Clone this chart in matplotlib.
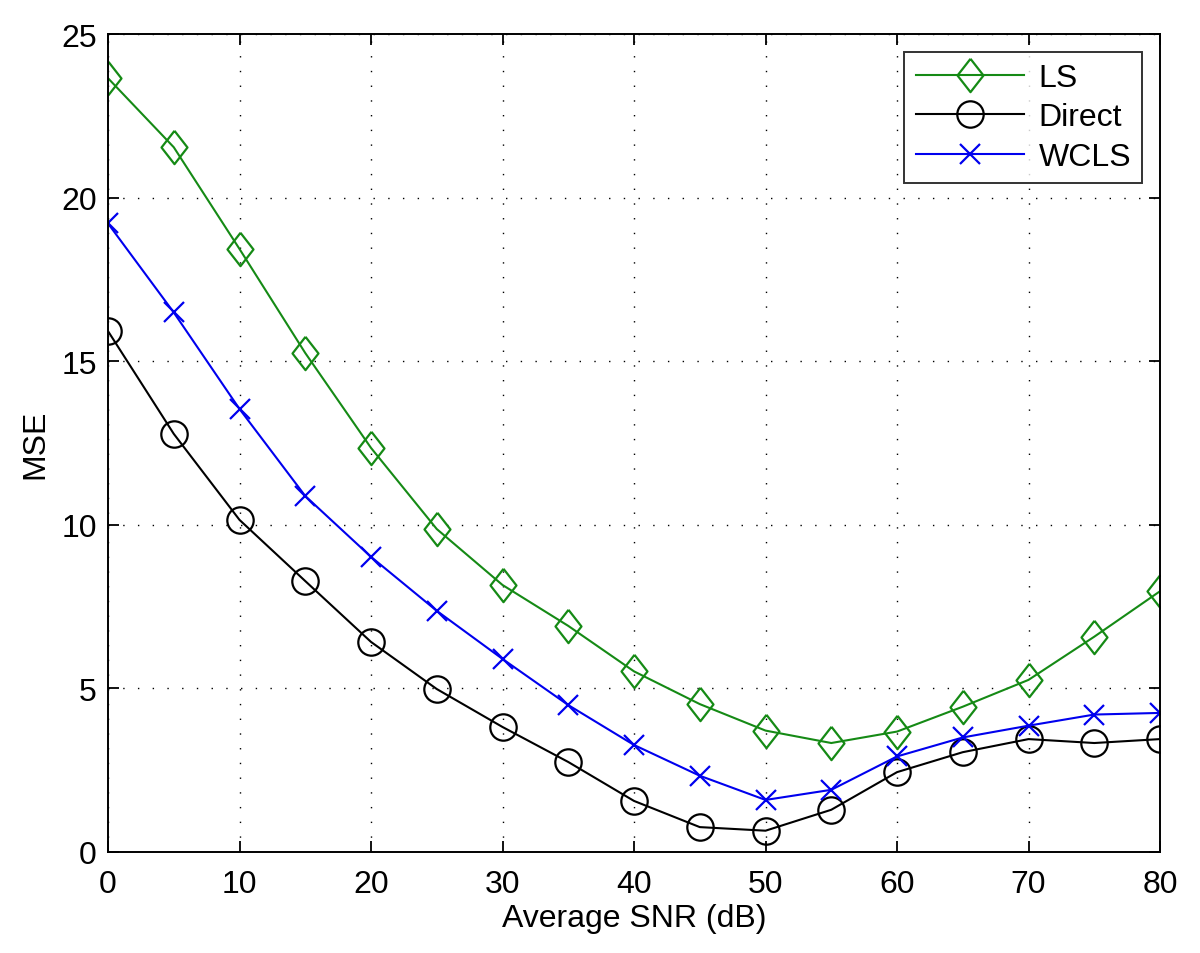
import matplotlib
matplotlib.use("Agg")
import matplotlib.pyplot as plt

snr = [0, 5, 10, 15, 20, 25, 30, 35, 40, 45, 50, 55, 60, 65, 70, 75, 80]
ls = [23.65, 21.54, 18.43, 15.25, 12.35, 9.87, 8.16, 6.91, 5.52, 4.52, 3.71, 3.33, 3.68, 4.44, 5.26, 6.58, 7.97]
direct = [15.92, 12.78, 10.15, 8.28, 6.42, 4.98, 3.82, 2.75, 1.56, 0.76, 0.65, 1.29, 2.44, 3.05, 3.45, 3.33, 3.45]
wcls = [19.21, 16.49, 13.54, 10.88, 9.02, 7.37, 5.90, 4.49, 3.27, 2.33, 1.59, 1.90, 2.92, 3.50, 3.86, 4.20, 4.25]

xticks = [0, 10, 20, 30, 40, 50, 60, 70, 80]
yticks = [0, 5, 10, 15, 20, 25]

plt.rcParams['font.family'] = ['Liberation Sans', 'DejaVu Sans']

fig = plt.figure(figsize=(12, 9.54), dpi=100)
ax = fig.add_axes([0.09, 0.1059, 0.8767, 0.8574])

diamond = [(0, 1), (0.78, 0), (0, -1), (-0.78, 0), (0, 1)]
ax.plot(snr, ls, color='#158a15', lw=1.5, marker=diamond, ms=24, mfc='none', mec='#158a15', mew=1.6, label='LS')
ax.plot(snr, direct, color='black', lw=1.5, marker='o', ms=19, mfc='none', mec='black', mew=1.6, label='Direct')
ax.plot(snr, wcls, color='#0000ee', lw=1.5, marker='x', ms=14, mec='#0000ee', mew=1.6, label='WCLS')

ax.set_xlim(0, 80)
ax.set_ylim(0, 25)
ax.set_xticks(xticks)
ax.set_yticks(yticks)
ax.tick_params(direction='in', top=True, right=True, labelsize=23, length=8, width=1.3)
ax.tick_params(axis='x', pad=12)
ax.tick_params(axis='y', pad=8)
ax.grid(True, linestyle=(0, (1, 9.6)), color='black', lw=1.0)
for s in ax.spines.values():
    s.set_linewidth(1.4)

ax.set_xlabel('Average SNR (dB)', fontsize=23, labelpad=3)
ax.set_ylabel('MSE', fontsize=23, labelpad=8)

leg = ax.legend(loc='upper right', fontsize=23, frameon=True, fancybox=False, edgecolor='black',
                borderaxespad=0.55, handlelength=3.4, labelspacing=0.3, borderpad=0.35, handletextpad=0.45)
leg.get_frame().set_linewidth(1.4)

fig.savefig('out.png', dpi=100)
